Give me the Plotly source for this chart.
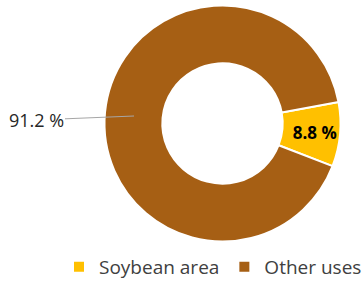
import plotly.graph_objects as go

labels = ["Soybean area", "Other uses"]
values = [8.8, 91.2]
colors = ["#FFC000", "#A65F14"]

W, H = 364, 282
cx, cy, r = 222.5, 123.5, 118

fig = go.Figure()
fig.add_trace(go.Pie(
    labels=labels, values=values, sort=False, direction="clockwise",
    rotation=79.5, hole=0.51,
    marker=dict(colors=colors, line=dict(color="white", width=2)),
    texttemplate=["<b>%{value:.1f} %</b>", ""],
    textposition="inside", insidetextorientation="horizontal",
    textfont=dict(family="Open Sans", size=17, color="black"),
    domain=dict(x=[(cx - r) / W, (cx + r) / W], y=[1 - (cy + r) / H, 1 - (cy - r) / H]),
    hoverinfo="label+percent",
))

fig.add_annotation(
    x=134 / W, y=1 - 116 / H, xref="paper", yref="paper",
    text=f"{values[1]:.1f} %", showarrow=True, arrowhead=0, arrowwidth=1,
    arrowcolor="#A6A6A6", ax=-98, ay=4,
    font=dict(family="Open Sans", size=18, color="#262626"),
)

fig.update_layout(
    width=W, height=H, margin=dict(l=0, r=0, t=0, b=0, autoexpand=False),
    paper_bgcolor="white", plot_bgcolor="white",
    showlegend=True,
    legend=dict(orientation="h", x=1 + 3 / W, xanchor="right", y=-4 / H, yanchor="bottom",
                font=dict(family="Open Sans", size=19, color="#404040"),
                itemclick=False),
)

fig.write_html("out.html", config={"displayModeBar": False},
               post_script="document.body.style.margin='0';")
